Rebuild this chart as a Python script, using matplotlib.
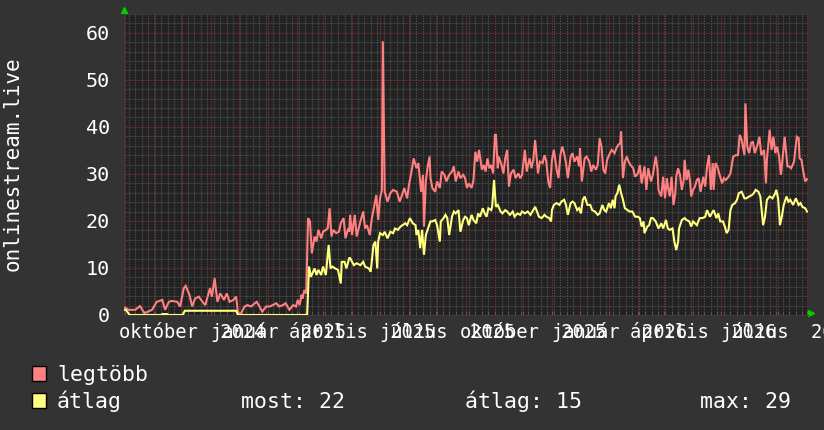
import datetime as dt

import matplotlib
matplotlib.use("Agg")
import matplotlib.pyplot as plt
import matplotlib.dates as mdates
import matplotlib.ticker as ticker
from matplotlib.patches import Rectangle

# idotengely: napok a kezdettol
kezdet = dt.datetime(2024, 7, 31)
hossz_nap = 732

nap_legtobb = [0, 1, 5, 12, 17, 22, 30, 35, 41, 44, 48, 51, 57, 60, 64, 66, 70, 73, 76, 80, 84, 87, 92, 94, 97,
               100, 103, 107, 110, 113, 117, 120, 122, 125, 129, 132, 136, 140, 142, 145, 148, 152, 156, 159,
               163, 166, 170, 173, 177, 181, 184, 186, 188, 190, 191, 193, 195, 197, 199, 201, 204, 206, 208,
               211, 213, 216, 218, 220, 222, 224, 227, 230, 232, 235, 237, 240, 241, 242, 244, 247, 249, 253,
               256, 258, 260, 263, 265, 268, 270, 272, 274, 276, 277, 279, 282, 285, 288, 292, 295, 297, 300,
               303, 305, 308, 310, 313, 315, 318, 320, 321, 323, 325, 327, 328, 330, 333, 335, 338, 340, 343,
               345, 348, 351, 353, 355, 358, 360, 363, 365, 367, 369, 372, 374, 376, 378, 380, 383, 385, 387,
               389, 391, 393, 395, 397, 398, 400, 401, 404, 406, 408, 410, 412, 414, 417, 419, 422, 424, 426,
               429, 431, 434, 436, 438, 440, 443, 445, 448, 450, 452, 454, 456, 458, 460, 463, 465, 467, 469,
               471, 473, 475, 478, 480, 482, 485, 487, 488, 490, 493, 495, 498, 500, 502, 505, 507, 509, 511,
               513, 515, 517, 520, 522, 525, 527, 529, 531, 532, 534, 536, 538, 540, 542, 545, 547, 550, 552,
               554, 557, 559, 561, 564, 566, 569, 571, 572, 575, 577, 579, 581, 582, 584, 586, 588, 590, 591,
               593, 595, 597, 599, 600, 602, 604, 606, 607, 609, 611, 613, 615, 617, 620, 622, 624, 626, 628,
               630, 631, 633, 635, 637, 640, 642, 644, 647, 649, 652, 655, 657, 659, 661, 664, 665, 667, 669,
               671, 673, 675, 678, 680, 682, 685, 687, 688, 691, 693, 695, 697, 699, 701, 703, 705, 707, 710,
               712, 714, 717, 720, 722, 723, 725, 727, 729, 731]
legtobb = [1.6, 1.6, 1.1, 1.1, 1.9, 0.4, 1.1, 2.8, 3.2, 1.1, 2.8, 3.0, 2.8, 1.8, 5.7, 6.2, 4.3, 1.8, 3.5, 3.9,
           2.8, 2.1, 5.7, 3.9, 7.8, 2.8, 4.6, 3.2, 4.6, 2.8, 3.2, 3.9, 0.4, 0.2, 1.8, 2.1, 1.8, 2.5, 2.8, 1.8,
           0.7, 1.8, 1.8, 2.1, 2.5, 1.8, 2.1, 2.5, 1.1, 2.1, 1.8, 3.2, 2.1, 4.3, 3.5, 5.3, 4.6, 20.6, 19.9,
           13.1, 16.7, 15.6, 18.1, 16.3, 17.7, 18.1, 18.4, 22.7, 16.7, 18.1, 17.4, 17.7, 19.5, 20.6, 16.3,
           18.4, 17.7, 21.3, 17.0, 21.3, 16.7, 19.9, 22.0, 18.4, 19.1, 17.0, 20.2, 23.4, 25.5, 20.2, 24.8,
           26.6, 58.2, 26.2, 24.1, 25.9, 26.6, 26.2, 24.1, 25.2, 27.0, 24.8, 27.7, 30.9, 33.3, 31.2, 32.3,
           26.2, 29.8, 18.8, 28.4, 31.6, 33.7, 29.1, 27.0, 26.2, 28.4, 27.0, 30.5, 29.8, 28.4, 29.8, 30.5,
           31.6, 28.4, 30.5, 29.1, 29.8, 29.1, 27.0, 28.0, 27.0, 28.7, 34.7, 32.6, 35.1, 30.9, 31.9, 30.5,
           33.3, 31.2, 31.9, 30.1, 38.3, 38.3, 31.2, 33.7, 31.9, 30.1, 33.3, 35.1, 27.3, 30.1, 30.9, 29.1,
           30.1, 29.1, 29.8, 35.1, 30.5, 33.3, 31.2, 33.0, 37.2, 30.1, 32.6, 32.3, 34.0, 32.6, 28.4, 27.0,
           33.0, 35.1, 30.9, 29.1, 34.0, 35.8, 34.4, 32.3, 29.1, 33.7, 34.4, 32.6, 33.7, 31.6, 35.5, 28.4,
           33.3, 33.7, 32.6, 30.5, 31.9, 30.9, 31.9, 37.6, 35.8, 30.9, 30.1, 33.0, 34.4, 35.1, 34.4, 35.5,
           36.2, 36.5, 39.0, 29.1, 32.6, 33.7, 32.6, 31.9, 31.2, 29.4, 30.1, 31.9, 28.0, 31.6, 26.6, 31.2,
           28.4, 29.8, 33.7, 30.9, 26.6, 25.2, 29.4, 24.8, 29.1, 27.3, 25.2, 29.4, 23.4, 25.9, 29.4, 31.2,
           29.8, 26.6, 28.7, 33.0, 28.7, 30.9, 28.0, 25.2, 26.6, 27.3, 28.7, 29.1, 26.2, 29.4, 27.3, 31.6,
           34.0, 26.6, 32.3, 26.6, 32.3, 31.6, 30.1, 28.0, 29.1, 28.7, 29.4, 30.1, 33.7, 34.0, 34.0, 38.3,
           37.2, 34.0, 45.0, 35.8, 34.4, 36.5, 36.9, 34.4, 36.2, 37.9, 34.0, 35.1, 28.0, 33.0, 39.4, 35.1,
           37.9, 34.4, 35.8, 33.7, 29.8, 33.7, 37.9, 31.6, 31.6, 31.2, 32.6, 37.9, 37.6, 33.3, 33.0, 30.5,
           28.4, 28.9]

nap_atlag = [0, 2, 6, 40, 41, 46, 47, 63, 65, 120, 122, 196, 198, 200, 204, 206, 208, 211, 213, 216, 219, 221,
             223, 226, 229, 232, 233, 236, 238, 241, 242, 246, 249, 253, 256, 258, 262, 264, 267, 269, 271,
             272, 274, 277, 279, 282, 285, 288, 290, 293, 296, 298, 301, 303, 306, 309, 312, 313, 315, 317,
             319, 321, 323, 326, 328, 330, 333, 335, 338, 339, 342, 344, 346, 348, 351, 353, 355, 358, 360,
             363, 365, 367, 369, 372, 374, 377, 379, 381, 384, 386, 388, 390, 393, 394, 396, 398, 400, 403,
             405, 408, 410, 413, 416, 418, 421, 424, 426, 429, 432, 435, 437, 440, 442, 444, 447, 450, 452,
             455, 457, 458, 460, 463, 466, 468, 471, 473, 475, 478, 480, 482, 485, 487, 489, 491, 493, 496,
             499, 501, 504, 507, 509, 512, 514, 516, 519, 521, 523, 525, 526, 528, 530, 532, 534, 536, 539,
             541, 544, 547, 550, 552, 554, 556, 557, 560, 562, 564, 566, 569, 572, 575, 577, 580, 582, 584,
             587, 589, 591, 593, 594, 597, 600, 602, 605, 607, 609, 611, 613, 616, 619, 622, 624, 627, 629,
             631, 634, 636, 638, 641, 643, 645, 647, 649, 651, 654, 656, 658, 661, 664, 666, 669, 672, 674,
             676, 679, 681, 684, 686, 688, 691, 694, 697, 698, 700, 702, 704, 706, 709, 711, 713, 716, 719,
             722, 724, 726, 729, 731]
atlag = [1.1, 1.1, 0, 0, 0.2, 0.2, 0, 0, 0.9, 0.9, 0, 0, 10.3, 8.1, 9.9, 8.5, 9.6, 8.5, 10.3, 8.5, 14.9, 9.9,
         10.3, 9.9, 9.6, 6.7, 11.3, 11.3, 9.9, 12.1, 12.1, 10.6, 11.0, 10.6, 11.3, 10.3, 9.9, 9.2, 14.9, 15.6,
         9.9, 15.6, 17.4, 17.0, 17.7, 16.3, 17.7, 17.4, 18.4, 18.1, 18.8, 19.1, 19.5, 19.1, 20.6, 19.5, 19.1,
         17.0, 18.1, 14.2, 18.1, 12.8, 17.0, 18.8, 19.9, 19.9, 20.2, 19.1, 15.6, 19.9, 20.6, 21.3, 20.6, 17.0,
         20.9, 22.0, 21.6, 22.3, 17.7, 20.2, 20.9, 20.6, 19.1, 21.3, 20.2, 19.5, 21.6, 20.9, 22.7, 21.6, 20.9,
         22.7, 22.3, 23.0, 28.7, 23.0, 23.4, 22.0, 21.6, 22.3, 22.0, 21.3, 22.0, 20.9, 21.6, 21.3, 22.0, 21.6,
         22.0, 21.3, 22.0, 23.0, 22.0, 20.9, 20.6, 21.3, 20.9, 20.6, 19.9, 22.3, 23.4, 23.8, 23.4, 24.1, 24.5,
         23.4, 21.3, 23.8, 24.1, 23.8, 22.3, 22.7, 21.6, 24.5, 25.2, 23.4, 23.4, 22.3, 22.0, 21.3, 21.6, 23.4,
         22.3, 22.0, 23.8, 22.7, 24.5, 22.7, 25.2, 25.9, 27.7, 25.9, 24.5, 22.7, 22.3, 22.0, 22.0, 20.9, 20.9,
         20.6, 18.8, 19.9, 17.4, 18.8, 19.1, 20.6, 20.6, 19.9, 18.4, 19.5, 18.4, 20.2, 18.4, 18.1, 18.4, 15.6,
         13.8, 15.6, 18.4, 20.2, 20.6, 20.2, 19.9, 18.8, 19.9, 19.5, 19.1, 20.6, 20.6, 20.9, 22.3, 20.9, 21.6,
         22.3, 20.6, 21.6, 19.9, 19.9, 18.8, 17.4, 18.1, 22.3, 23.4, 23.8, 24.5, 25.9, 26.2, 24.8, 24.8, 25.2,
         25.5, 25.9, 26.6, 26.2, 25.2, 19.1, 20.9, 24.5, 25.2, 24.8, 25.9, 26.6, 24.8, 19.1, 20.9, 23.4, 25.2,
         24.1, 24.5, 23.4, 24.8, 23.4, 23.8, 23.0, 22.7, 22.0]

honapok = ['január', 'február', 'március', 'április', 'május', 'június', 'július',
           'augusztus', 'szeptember', 'október', 'november', 'december']
cimke_honapok = [(2024, 10), (2025, 1), (2025, 4), (2025, 7), (2025, 10), (2026, 1), (2026, 4), (2026, 7)]
stat_nevek = ['most', 'átlag', 'max']
stat_ertekek = [22, 15, 29]

W, H = 824, 430
BACK = '#333333'
CANVAS = '#222222'
PIROS = '#ff8080'
SARGA = '#ffff80'
MONO = 'DejaVu Sans Mono'

fig = plt.figure(figsize=(W / 100, H / 100), dpi=100, facecolor=BACK)
ax = fig.add_axes([124 / W, 115 / H, 684 / W, 301 / H], facecolor=CANVAS)

x1 = [kezdet + dt.timedelta(days=d) for d in nap_legtobb]
x2 = [kezdet + dt.timedelta(days=d) for d in nap_atlag]
ax.plot(x1, legtobb, color=PIROS, lw=1.5, solid_joinstyle='miter', zorder=3)
ax.plot(x2, atlag, color=SARGA, lw=1.5, solid_joinstyle='miter', zorder=4)

ax.set_xlim(kezdet, kezdet + dt.timedelta(days=hossz_nap))
ax.set_ylim(0, 64)

# racs: havi piros, heti szurke
ax.xaxis.set_major_locator(mdates.MonthLocator())
ax.xaxis.set_minor_locator(mdates.WeekdayLocator(byweekday=mdates.MO))
ax.xaxis.set_major_formatter(ticker.NullFormatter())
ax.yaxis.set_major_locator(ticker.MultipleLocator(10))
ax.yaxis.set_minor_locator(ticker.MultipleLocator(2))
ax.set_axisbelow(True)
ax.grid(which='minor', color='#525252', lw=0.8, linestyle=(0, (1.2, 1.2)))
ax.grid(which='major', color='#7e3232', lw=0.8, linestyle=(0, (1.2, 1.2)))

ax.tick_params(axis='x', which='major', direction='in', length=3, color='#a04040')
ax.tick_params(axis='x', which='minor', direction='in', length=2, color='#606060')
ax.tick_params(axis='y', which='both', length=0, pad=10, labelcolor='white', labelsize=14.5)
for t in ax.get_yticklabels():
    t.set_fontfamily(MONO)
for s in ax.spines.values():
    s.set_visible(False)
ax.spines['bottom'].set_visible(True)
ax.spines['bottom'].set_color('#3c3c3c')
ax.spines['left'].set_visible(True)
ax.spines['left'].set_color('#3c3c3c')

# zold nyilak
ax.plot([0], [1.012], marker='^', ms=5, color='#00d000', transform=ax.transAxes, clip_on=False)
ax.plot([1.005], [0.006], marker='>', ms=5, color='#00d000', transform=ax.transAxes, clip_on=False)

# x cimkek: "honap  ev", negyedevente, egymasra csuszva mint az eredetin
for ev, ho in cimke_honapok:
    hely = dt.datetime(ev, ho, 1) + dt.timedelta(days=11)
    ax.text(mdates.date2num(hely), -0.075, f"{honapok[ho - 1]}  {ev}", transform=ax.get_xaxis_transform(),
            ha='center', va='baseline', color='white', fontsize=13.5, family=MONO, clip_on=False)

fig.text(13 / W, 1 - 164 / H, 'onlinestream.live', rotation=90, ha='center', va='center',
         color='white', fontsize=15, family=MONO)

# jelmagyarazat
for i, (nev, szin) in enumerate([('legtöbb', PIROS), ('átlag', SARGA)]):
    top = 366 + i * 27
    fig.add_artist(Rectangle((32 / W, 1 - (top + 15) / H), 14 / W, 15 / H, transform=fig.transFigure,
                             facecolor=szin, edgecolor='black', lw=1))
    fig.text(57 / W, 1 - (381 + i * 27) / H, nev, ha='left', va='baseline', color='white',
             fontsize=15.5, family=MONO)
for x0, nev, ertek in zip([241, 465, 700], stat_nevek, stat_ertekek):
    fig.text(x0 / W, 1 - 408 / H, f"{nev}: {ertek}", ha='left', va='baseline', color='white',
             fontsize=15.5, family=MONO)

fig.savefig('out.png', dpi=100, facecolor=BACK)
